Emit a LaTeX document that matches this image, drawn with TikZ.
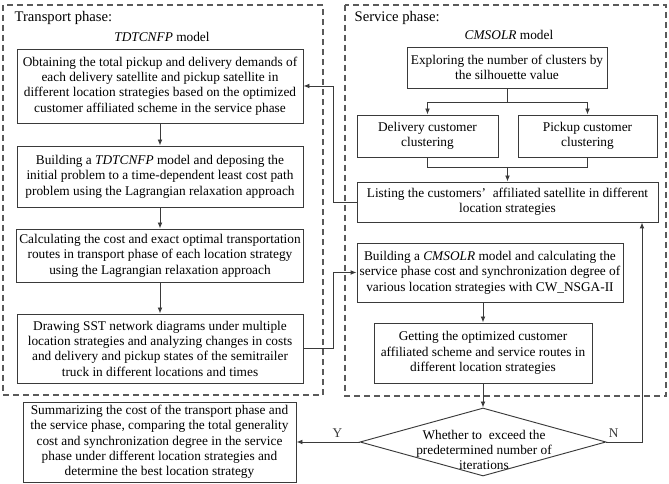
\documentclass[tikz,border=0pt]{standalone}
\usepackage{fontspec}
\setmainfont{Liberation Serif}
\usetikzlibrary{arrows.meta,positioning,shapes.geometric,calc}
\definecolor{chartInk}{HTML}{3A3A3A}
\definecolor{chartDash}{HTML}{5A5A5A}
\tikzset{
  stage/.style={draw=chartInk,line width=0.7pt,align=center,inner sep=2pt,
    font=\fontsize{10}{11.5}\selectfont},
  choice/.style={draw=chartInk,line width=0.7pt,diamond,aspect=3.6,inner sep=0pt,
    minimum width=184.5pt,minimum height=51pt},
  phase/.style={draw=chartDash,line width=0.9pt,dash pattern=on 4.5pt off 3pt},
  title/.style={font=\fontsize{11}{13}\selectfont,inner sep=1pt},
  caption/.style={font=\fontsize{10}{12}\selectfont,inner sep=1pt},
  link/.style={chartInk,line width=0.7pt},
  flow/.style={->,chartInk,line width=0.7pt}
}
\begin{document}
\begin{tikzpicture}[x=0.75pt,y=-0.75pt,>={Latex[length=4.5pt,width=3.6pt]}]
  \useasboundingbox (0,0) rectangle (669,484);
  % phase frames
  \draw[phase] (3,5) rectangle (323,395);
  \draw[phase] (345,5) rectangle (666,396);
  \node[title,anchor=west] (transTitle) at (13,18) {Transport phase:};
  \node[title,anchor=west] (servTitle) at (353,18) {Service phase:};
  \node[caption] (transModel) at (162,37) {\textit{TDTCNFP} model};
  \node[caption] (servModel) at (509,35) {\textit{CMSOLR} model};
  % transport phase
  \node[stage,minimum width=214.5pt,minimum height=55.5pt] (obtain) at (160,86)
       {Obtaining the total pickup and delivery demands of\\each delivery satellite and pickup satellite in\\different location strategies based on the optimized\\customer affiliated scheme in the service phase};
  \node[stage,minimum width=214.5pt,minimum height=45.75pt] (build) at (160,176.5)
       {Building a \textit{TDTCNFP} model and deposing the\\initial problem to a time-dependent least cost path\\problem using the Lagrangian relaxation approach};
  \node[stage,minimum width=214.5pt,minimum height=39.75pt] (calc) at (160,255.5)
       {Calculating the cost and exact optimal transportation\\routes in transport phase of each location strategy\\using the Lagrangian relaxation approach};
  \node[stage,minimum width=214.5pt,minimum height=51.75pt] (sst) at (160,348.5)
       {Drawing SST network diagrams under multiple\\location strategies and analyzing changes in costs\\and delivery and pickup states of the semitrailer\\truck in different locations and times};
  \node[stage,minimum width=204.75pt,minimum height=60pt] (summ) at (159.5,442)
       {Summarizing the cost of the transport phase and\\the service phase, comparing the total generality\\cost and synchronization degree in the service\\phase under different location strategies and\\determine the best location strategy};
  % service phase
  \node[stage,minimum width=150pt,minimum height=30.75pt] (explore) at (507,67.5)
       {Exploring the number of clusters by\\the silhouette value};
  \node[stage,minimum width=105.75pt,minimum height=31.5pt] (deliv) at (427.5,136)
       {Delivery customer\\clustering};
  \node[stage,minimum width=104.25pt,minimum height=31.5pt] (pick) at (587.5,136)
       {Pickup customer\\clustering};
  \node[stage,minimum width=225.75pt,minimum height=30pt] (list) at (507.5,202)
       {Listing the customers’\enspace affiliated satellite in different\\location strategies};
  \node[stage,minimum width=199.5pt,minimum height=44.25pt] (cmsolr) at (490,272.5)
       {Building a \textit{CMSOLR} model and calculating the\\service phase cost and synchronization degree of\\various location strategies with CW\_NSGA-II};
  \node[stage,minimum width=163.5pt,minimum height=45pt] (get) at (483,353)
       {Getting the optimized customer\\affiliated scheme and service routes in\\different location strategies};
  \node[choice] (decide) at (483,442) {};
  \node[stage,draw=none,inner sep=0pt] (decideText) at (484,450)
       {Whether to\ \ exceed the\\predetermined number of\\iterations};
  % connectors
  \foreach \a/\b in {obtain/build,build/calc,calc/sst}{\draw[flow] (\a)--(\b);}
  \draw[flow] (explore.south) -- ++(0,14) -| (deliv.north);
  \draw[flow] (explore.south) -- ++(0,14) -| (pick.north);
  \coordinate (merge) at (507.5,167);
  \draw[link] (deliv.south) |- (merge);
  \draw[link] (pick.south) |- (merge);
  \draw[flow] (merge) -- (list.north);
  \draw[flow] (list.west) -- ++(-23,0) |- (obtain.east);
  \draw[flow] (sst.east) -- ++(30,0) |- (cmsolr.west);
  \draw[flow] (cmsolr.south -| get.north) -- (get.north);
  \draw[flow] (get.south) -- (decide.north);
  \draw[flow] (decide.west) -- node[caption,above=2pt,pos=0.35] {Y} (summ.east);
  \coordinate (nturn) at (642,442);
  \draw[flow] (decide.east) -- node[caption,above=2pt,pos=0.2] {N} (nturn) -- (nturn |- list.south);
\end{tikzpicture}
\end{document}
